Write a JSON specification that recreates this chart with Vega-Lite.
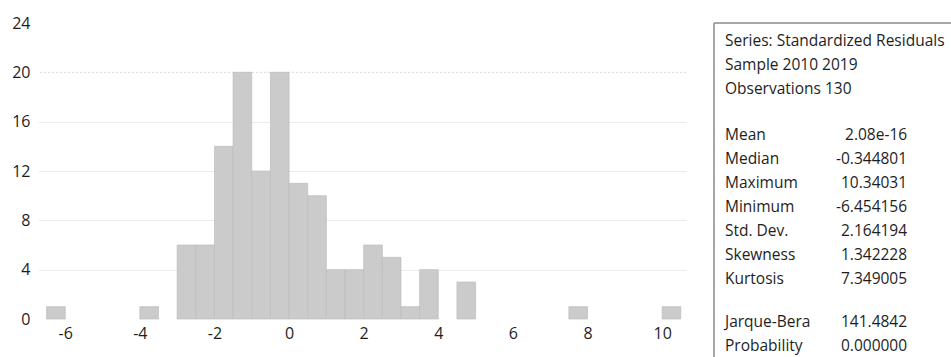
{
  "$schema": "https://vega.github.io/schema/vega-lite/v6.json",
  "padding": {"left": 0, "top": 15, "right": 0, "bottom": 0},
  "background": "white",
  "spacing": 26,
  "config": {
    "view": {"stroke": null},
    "font": "Open Sans",
    "axis": {"labelFont": "Open Sans", "labelColor": "#1e1e1e", "labelFontSize": 16}
  },
  "datasets": {
    "bins": [
      {"bin_start": -6.5, "bin_end": -6.0, "count": 1},
      {"bin_start": -4.0, "bin_end": -3.5, "count": 1},
      {"bin_start": -3.0, "bin_end": -2.5, "count": 6},
      {"bin_start": -2.5, "bin_end": -2.0, "count": 6},
      {"bin_start": -2.0, "bin_end": -1.5, "count": 14},
      {"bin_start": -1.5, "bin_end": -1.0, "count": 20},
      {"bin_start": -1.0, "bin_end": -0.5, "count": 12},
      {"bin_start": -0.5, "bin_end": 0.0, "count": 20},
      {"bin_start": 0.0, "bin_end": 0.5, "count": 11},
      {"bin_start": 0.5, "bin_end": 1.0, "count": 10},
      {"bin_start": 1.0, "bin_end": 1.5, "count": 4},
      {"bin_start": 1.5, "bin_end": 2.0, "count": 4},
      {"bin_start": 2.0, "bin_end": 2.5, "count": 6},
      {"bin_start": 2.5, "bin_end": 3.0, "count": 5},
      {"bin_start": 3.0, "bin_end": 3.5, "count": 1},
      {"bin_start": 3.5, "bin_end": 4.0, "count": 4},
      {"bin_start": 4.5, "bin_end": 5.0, "count": 3},
      {"bin_start": 7.5, "bin_end": 8.0, "count": 1},
      {"bin_start": 10.0, "bin_end": 10.5, "count": 1}
    ],
    "stats": [
      {"line": 0, "label": "Series: Standardized Residuals", "value": ""},
      {"line": 1, "label": "Sample 2010 2019", "value": ""},
      {"line": 2, "label": "Observations 130", "value": ""},
      {"line": 3.9, "label": "Mean", "value": "2.08e-16"},
      {"line": 4.9, "label": "Median", "value": "-0.344801"},
      {"line": 5.9, "label": "Maximum", "value": "10.34031"},
      {"line": 6.9, "label": "Minimum", "value": "-6.454156"},
      {"line": 7.9, "label": "Std. Dev.", "value": "2.164194"},
      {"line": 8.9, "label": "Skewness", "value": "1.342228"},
      {"line": 9.9, "label": "Kurtosis", "value": "7.349005"},
      {"line": 11.7, "label": "Jarque-Bera", "value": "141.4842"},
      {"line": 12.7, "label": "Probability", "value": "0.000000"}
    ]
  },
  "hconcat": [
    {
      "width": 648,
      "height": 296,
      "data": {"name": "bins"},
      "layer": [
        {
          "mark": {"type": "rule", "color": "#d8d8d8", "strokeWidth": 1, "strokeDash": [2, 2]},
          "data": {"values": [{"g": 20}]},
          "encoding": {"y": {"field": "g", "type": "quantitative"}}
        },
        {
          "mark": {"type": "bar", "fill": "#cbcbcb", "stroke": "#bdbdbd", "strokeWidth": 0.7},
          "encoding": {
            "x": {
              "field": "bin_start",
              "type": "quantitative",
              "scale": {"domain": [-6.73, 10.64], "nice": false, "zero": false},
              "axis": {
                "title": null,
                "values": [-6, -4, -2, 0, 2, 4, 6, 8, 10],
                "labelExpr": "datum.value + ''",
                "grid": false,
                "ticks": false,
                "domain": false,
                "labelPadding": 6
              }
            },
            "x2": {"field": "bin_end"},
            "y": {
              "field": "count",
              "type": "quantitative",
              "scale": {"domain": [0, 24], "nice": false},
              "axis": {
                "title": null,
                "values": [0, 4, 8, 12, 16, 20, 24],
                "grid": true,
                "gridColor": {"condition": {"test": "datum.value == 0 || datum.value >= 20", "value": "transparent"}, "value": "#ececec"},
                "gridWidth": 1.2,
                "ticks": false,
                "domain": false,
                "labelPadding": 8,
                "minExtent": 38,
                "maxExtent": 38
              }
            },
            "y2": {"datum": 0}
          }
        }
      ]
    },
    {
      "width": 239,
      "height": 335,
      "data": {"name": "stats"},
      "layer": [
        {
          "mark": {"type": "rule", "color": "#8a8a8a", "strokeWidth": 1.5},
          "data": {"values": [{"x0": 0, "ytop": -0.75, "ybot": 13.5}]},
          "encoding": {
            "x": {"field": "x0", "type": "quantitative"},
            "y": {"field": "ytop", "type": "quantitative"},
            "y2": {"field": "ybot"}
          }
        },
        {
          "mark": {"type": "rule", "color": "#8a8a8a", "strokeWidth": 1.5},
          "data": {"values": [{"x0": 0, "x1": 1, "ytop": -0.75}]},
          "encoding": {
            "x": {"field": "x0", "type": "quantitative"},
            "x2": {"field": "x1"},
            "y": {"field": "ytop", "type": "quantitative"}
          }
        },
        {
          "mark": {"type": "text", "align": "left", "baseline": "middle", "fontSize": 15.5, "color": "#1e1e1e"},
          "encoding": {
            "x": {"datum": 0.046, "type": "quantitative"},
            "y": {"field": "line", "type": "quantitative"},
            "text": {"field": "label"}
          }
        },
        {
          "mark": {"type": "text", "align": "right", "baseline": "middle", "fontSize": 15.5, "color": "#1e1e1e"},
          "encoding": {
            "x": {"datum": 0.808, "type": "quantitative"},
            "y": {"field": "line", "type": "quantitative"},
            "text": {"field": "value"}
          }
        }
      ],
      "encoding": {
        "x": {"type": "quantitative", "scale": {"domain": [0, 1], "nice": false}, "axis": null},
        "y": {"type": "quantitative", "scale": {"domain": [-0.75, 13.2], "nice": false, "reverse": true}, "axis": null}
      }
    }
  ]
}
